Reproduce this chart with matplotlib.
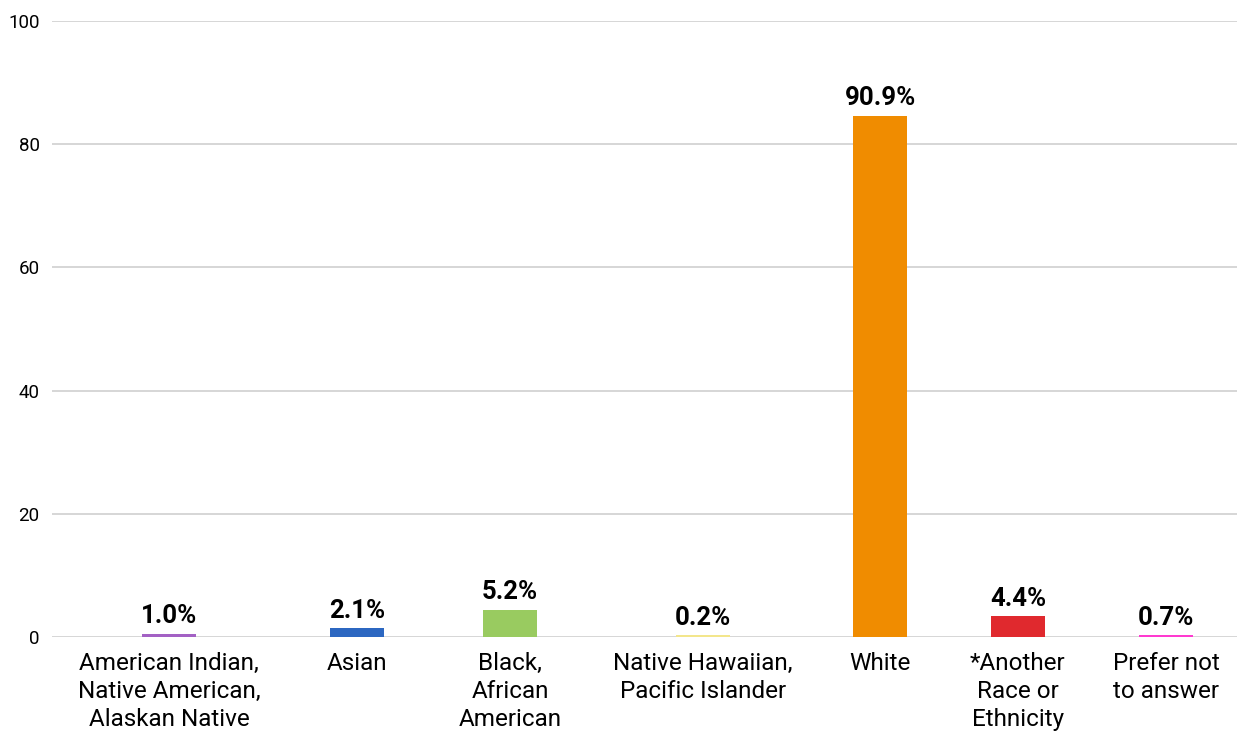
import matplotlib.pyplot as plt

# data
categories = ["American Indian,\nNative American,\nAlaskan Native", "Asian",
              "Black,\nAfrican\nAmerican", "Native Hawaiian,\nPacific Islander",
              "White", "*Another\nRace or\nEthnicity", "Prefer not\nto answer"]
bar_values = [0.5, 1.4, 4.4, 0.2, 84.6, 3.4, 0.3]
value_labels = ["1.0%", "2.1%", "5.2%", "0.2%", "90.9%", "4.4%", "0.7%"]
colors = ["#a361c4", "#2c67c1", "#99cb60", "#f3e68c", "#f08c00", "#e0292e", "#ff3ad0"]

# slot centres in the original layout are not evenly spaced
slots = [169, 357, 510, 703, 880, 1018, 1166]

plt.rcParams['font.family'] = ['Roboto', 'DejaVu Sans']

fig = plt.figure(figsize=(12.37, 7.34), dpi=100)
ax = fig.add_axes([52 / 1237, 1 - 637 / 734, (1237 - 52) / 1237, 616 / 734])

for x, v, c in zip(slots, bar_values, colors):
    ax.bar(x, max(v, 0.25), width=54, color=c, zorder=3)
for x, v, lab in zip(slots, bar_values, value_labels):
    ax.text(x, v + 0.9, lab, ha='center', va='bottom', fontsize=18.5,
            fontweight='bold', color='#000000', zorder=4)

ax.set_xlim(52, 1237)
ax.set_ylim(0, 100)
ax.set_yticks([0, 20, 40, 60, 80, 100])
ax.set_xticks(slots)
ax.set_xticklabels(categories, fontsize=17.5, linespacing=1.27)
ax.tick_params(axis='x', length=0, pad=11)
ax.tick_params(axis='y', length=0, pad=9, labelsize=13.5)
ax.grid(axis='y', color='#d3d3d3', linewidth=1.3, zorder=0)
for s in ax.spines.values():
    s.set_visible(False)

fig.savefig('out.png', dpi=100)
